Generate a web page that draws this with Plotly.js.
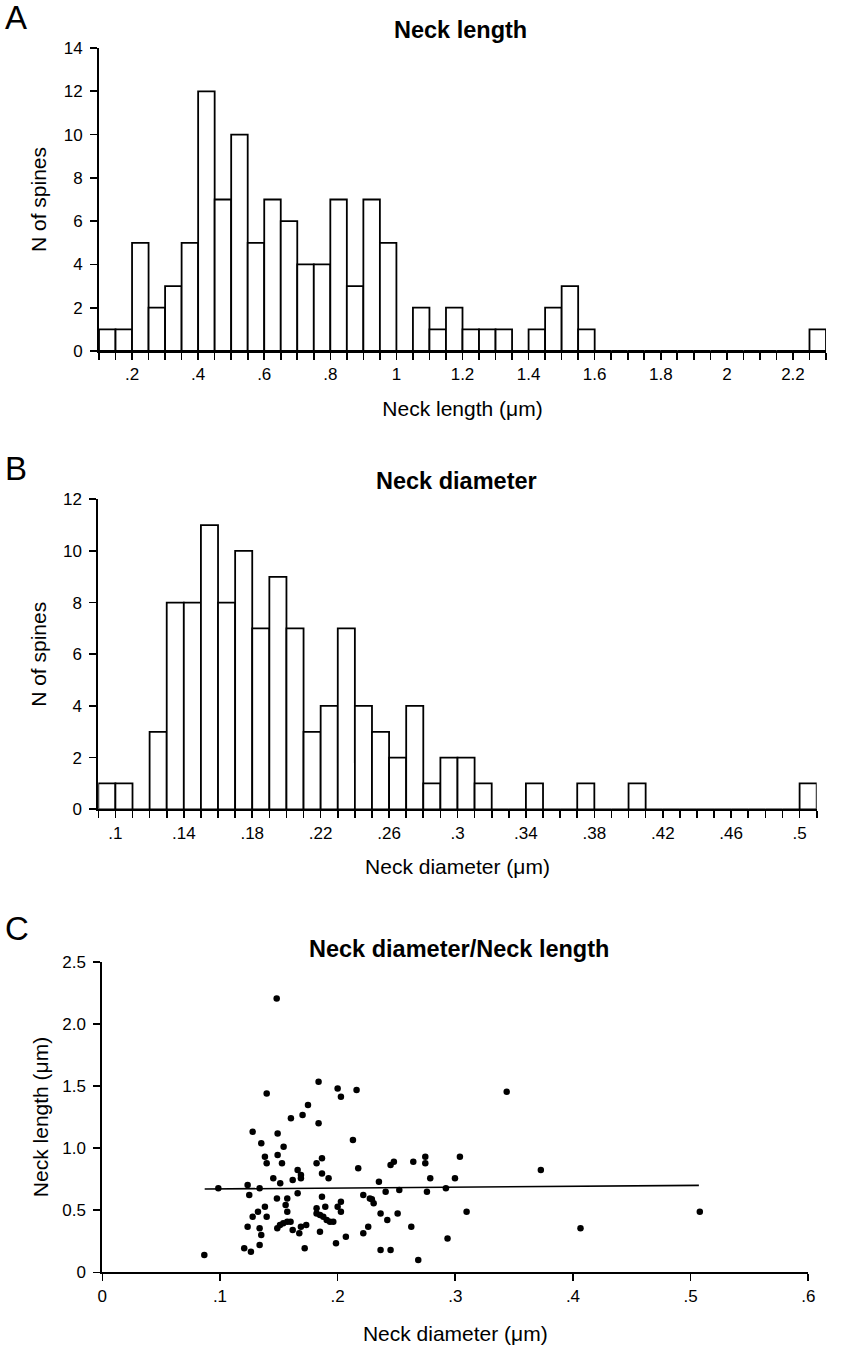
<!DOCTYPE html>
<html>
<head>
<meta charset="utf-8">
<script src="https://cdn.plot.ly/plotly-3.0.1.min.js"></script>
<style>html,body{margin:0;padding:0;background:#fff;}#chart{width:847px;height:1348px;}</style>
</head>
<body>
<div id="chart"></div>
<script>
// ---- Panel A: Neck length histogram ----
const lengthBinStart = 0.10;
const lengthBinWidth = 0.05;
const lengthCounts = [1,1,5,2,3,5,12,7,10,5,7,6,4,4,7,3,7,5,0,2,1,2,1,1,1,0,1,2,3,1,
                      0,0,0,0,0,0,0,0,0,0,0,0,0,1];
const lengthTickVals = [0.2,0.4,0.6,0.8,1.0,1.2,1.4,1.6,1.8,2.0,2.2];
const lengthTickText = ['.2','.4','.6','.8','1','1.2','1.4','1.6','1.8','2','2.2'];
const countTicksA = [0,2,4,6,8,10,12,14];

// ---- Panel B: Neck diameter histogram ----
const diamBinStart = 0.09;
const diamBinWidth = 0.01;
const diamCounts = [1,1,0,3,8,8,11,8,10,7,9,7,3,4,7,4,3,2,4,1,2,2,1,
                    0,0,1,0,0,1,0,0,1,
                    0,0,0,0,0,0,0,0,0,1];
const diamTickVals = [0.10,0.14,0.18,0.22,0.26,0.30,0.34,0.38,0.42,0.46,0.50];
const diamTickText = ['.1','.14','.18','.22','.26','.3','.34','.38','.42','.46','.5'];
const countTicksB = [0,2,4,6,8,10,12];

// ---- Panel C: scatter neck diameter vs neck length ----
const scatterDiam = [
 0.1397,0.1278,0.149,0.1351,0.1382,0.149,0.1397,0.1453,0.0986,0.1235,0.1337,0.1249,0.1484,0.1382,0.1323,0.1278,0.1397,0.1235,0.1337,0.1351,0.1206,0.1263,0.1337,0.0867,
 0.1838,0.200,0.2028,0.2161,0.1748,0.1702,0.1603,0.1838,0.213,0.1541,0.1527,0.1821,0.1867,0.2175,0.166,0.1688,0.1688,0.1867,0.1923,0.1618,0.1512,0.1572,0.166,0.1867,0.1558,0.1572,0.1821,0.1895,0.1821,0.185,0.1878,0.1907,0.1935,0.1963,0.200,0.2028,0.2028,0.2218,0.1487,0.151,0.1538,0.1572,0.160,0.1618,0.1674,0.1688,0.1733,0.185,0.172,0.1986,0.207,0.2218,0.226,
 0.245,0.2478,0.2643,0.2745,0.2745,0.3039,0.2351,0.2787,0.2997,0.2408,0.2524,0.2759,0.292,0.2274,0.2291,0.2306,0.2365,0.251,0.3096,0.2422,0.2626,0.2934,0.2365,0.245,0.2685,
 0.1482,0.3437,0.3727,0.4064,0.5078];
const scatterLen = [
 1.440,1.131,1.118,1.038,0.930,0.944,0.877,0.756,0.676,0.702,0.676,0.622,0.595,0.528,0.488,0.447,0.447,0.367,0.354,0.300,0.193,0.166,0.220,0.139,
 1.533,1.480,1.413,1.467,1.346,1.266,1.239,1.199,1.064,1.011,0.877,0.877,0.917,0.837,0.823,0.783,0.756,0.796,0.756,0.742,0.716,0.595,0.636,0.608,0.541,0.488,0.515,0.528,0.474,0.461,0.447,0.421,0.407,0.407,0.528,0.568,0.488,0.622,0.354,0.381,0.394,0.407,0.407,0.340,0.314,0.367,0.381,0.327,0.193,0.233,0.287,0.314,0.367,
 0.863,0.890,0.890,0.930,0.877,0.930,0.729,0.756,0.756,0.649,0.662,0.649,0.676,0.595,0.587,0.555,0.474,0.474,0.488,0.421,0.367,0.273,0.179,0.179,0.099,
 2.204,1.453,0.823,0.354,0.488];
const fitDiam = [0.087, 0.507];
const fitLen = [0.67, 0.70];
const scatterXTickVals = [0,0.1,0.2,0.3,0.4,0.5,0.6];
const scatterXTickText = ['0','.1','.2','.3','.4','.5','.6'];
const scatterYTickVals = [0,0.5,1.0,1.5,2.0,2.5];
const scatterYTickText = ['0','0.5','1.0','1.5','2.0','2.5'];

// ---- helpers ----
const W = 847, H = 1348;
const px = v => v / W;
const py = v => 1 - v / H;
const FONT = 'Liberation Sans, Arial, Helvetica, sans-serif';

function centers(start, width, n) {
  const c = [];
  for (let i = 0; i < n; i++) c.push(start + width * (i + 0.5));
  return c;
}

const barStyle = {color: '#ffffff', line: {color: '#000000', width: 1.8}};

const traces = [
  {type: 'bar', x: centers(lengthBinStart, lengthBinWidth, lengthCounts.length), y: lengthCounts,
   width: lengthBinWidth, marker: barStyle, xaxis: 'x', yaxis: 'y', hoverinfo: 'x+y'},
  {type: 'bar', x: centers(diamBinStart, diamBinWidth, diamCounts.length), y: diamCounts,
   width: diamBinWidth, marker: barStyle, xaxis: 'x2', yaxis: 'y2', hoverinfo: 'x+y'},
  {type: 'scatter', mode: 'markers', x: scatterDiam, y: scatterLen,
   marker: {color: '#000000', size: 6.5}, xaxis: 'x3', yaxis: 'y3', cliponaxis: false},
  {type: 'scatter', mode: 'lines', x: fitDiam, y: fitLen,
   line: {color: '#000000', width: 1.6}, xaxis: 'x3', yaxis: 'y3'}
];

const axisBase = {
  showgrid: false, zeroline: false, showline: true, linecolor: '#000', linewidth: 2,
  ticks: 'outside', ticklen: 7, tickwidth: 1.6, tickcolor: '#000',
  tickfont: {family: FONT, size: 17, color: '#000'}, fixedrange: true
};
const titleFont = {family: FONT, size: 21, color: '#000'};

const layout = {
  width: W, height: H,
  margin: {l: 0, r: 0, t: 0, b: 0},
  paper_bgcolor: '#fff', plot_bgcolor: '#fff',
  showlegend: false, bargap: 0,
  font: {family: FONT, color: '#000'},
  xaxis: Object.assign({}, axisBase, {
    domain: [px(99), px(826)], anchor: 'y', range: [0.1, 2.3],
    tickmode: 'array', tickvals: lengthTickVals, ticktext: lengthTickText,
    minor: {tick0: 0.1, dtick: 0.05, ticks: 'outside', ticklen: 7, tickwidth: 1.6, tickcolor: '#000', showgrid: false},
    title: {text: 'Neck length (\u03bcm)', font: titleFont, standoff: 18}
  }),
  yaxis: Object.assign({}, axisBase, {
    domain: [py(351), py(48)], anchor: 'x', range: [0, 14],
    tickmode: 'array', tickvals: countTicksA,
    ticklabelstandoff: 4,
    title: {text: 'N of spines', font: titleFont, standoff: 11}
  }),
  xaxis2: Object.assign({}, axisBase, {
    domain: [px(98.3), px(816.7)], anchor: 'y2', range: [0.09, 0.51],
    tickmode: 'array', tickvals: diamTickVals, ticktext: diamTickText,
    minor: {tick0: 0.09, dtick: 0.01, ticks: 'outside', ticklen: 7, tickwidth: 1.6, tickcolor: '#000', showgrid: false},
    title: {text: 'Neck diameter (\u03bcm)', font: titleFont, standoff: 18}
  }),
  yaxis2: Object.assign({}, axisBase, {
    domain: [py(809.3), py(499.3)], anchor: 'x2', range: [0, 12],
    tickmode: 'array', tickvals: countTicksB,
    ticklabelstandoff: 4,
    title: {text: 'N of spines', font: titleFont, standoff: 11}
  }),
  xaxis3: Object.assign({}, axisBase, {
    domain: [px(102.3), px(808.3)], anchor: 'y3', range: [0, 0.6],
    tickmode: 'array', tickvals: scatterXTickVals, ticktext: scatterXTickText,
    title: {text: 'Neck diameter (\u03bcm)', font: titleFont, standoff: 22}
  }),
  yaxis3: Object.assign({}, axisBase, {
    domain: [py(1272.3), py(961.7)], anchor: 'x3', range: [0, 2.5],
    tickmode: 'array', tickvals: scatterYTickVals, ticktext: scatterYTickText,
    ticklabelstandoff: 4,
    title: {text: 'Neck length (\u03bcm)', font: titleFont, standoff: 8}
  }),
  annotations: [
    {text: 'A', x: px(3), y: py(18), xref: 'paper', yref: 'paper', xanchor: 'left', yanchor: 'middle', showarrow: false, font: {family: FONT, size: 33, color: '#000'}},
    {text: 'B', x: px(3), y: py(469), xref: 'paper', yref: 'paper', xanchor: 'left', yanchor: 'middle', showarrow: false, font: {family: FONT, size: 33, color: '#000'}},
    {text: 'C', x: px(3), y: py(929), xref: 'paper', yref: 'paper', xanchor: 'left', yanchor: 'middle', showarrow: false, font: {family: FONT, size: 33, color: '#000'}},
    {text: '<b>Neck length</b>', x: px(460), y: py(30), xref: 'paper', yref: 'paper', xanchor: 'center', yanchor: 'middle', showarrow: false, font: {family: FONT, size: 23.5, color: '#000'}},
    {text: '<b>Neck diameter</b>', x: px(457), y: py(481), xref: 'paper', yref: 'paper', xanchor: 'center', yanchor: 'middle', showarrow: false, font: {family: FONT, size: 23.5, color: '#000'}},
    {text: '<b>Neck diameter/Neck length</b>', x: px(459), y: py(949), xref: 'paper', yref: 'paper', xanchor: 'center', yanchor: 'middle', showarrow: false, font: {family: FONT, size: 23.5, color: '#000'}}
  ]
};

Plotly.newPlot('chart', traces, layout, {staticPlot: true, displayModeBar: false});
</script>
</body>
</html>
